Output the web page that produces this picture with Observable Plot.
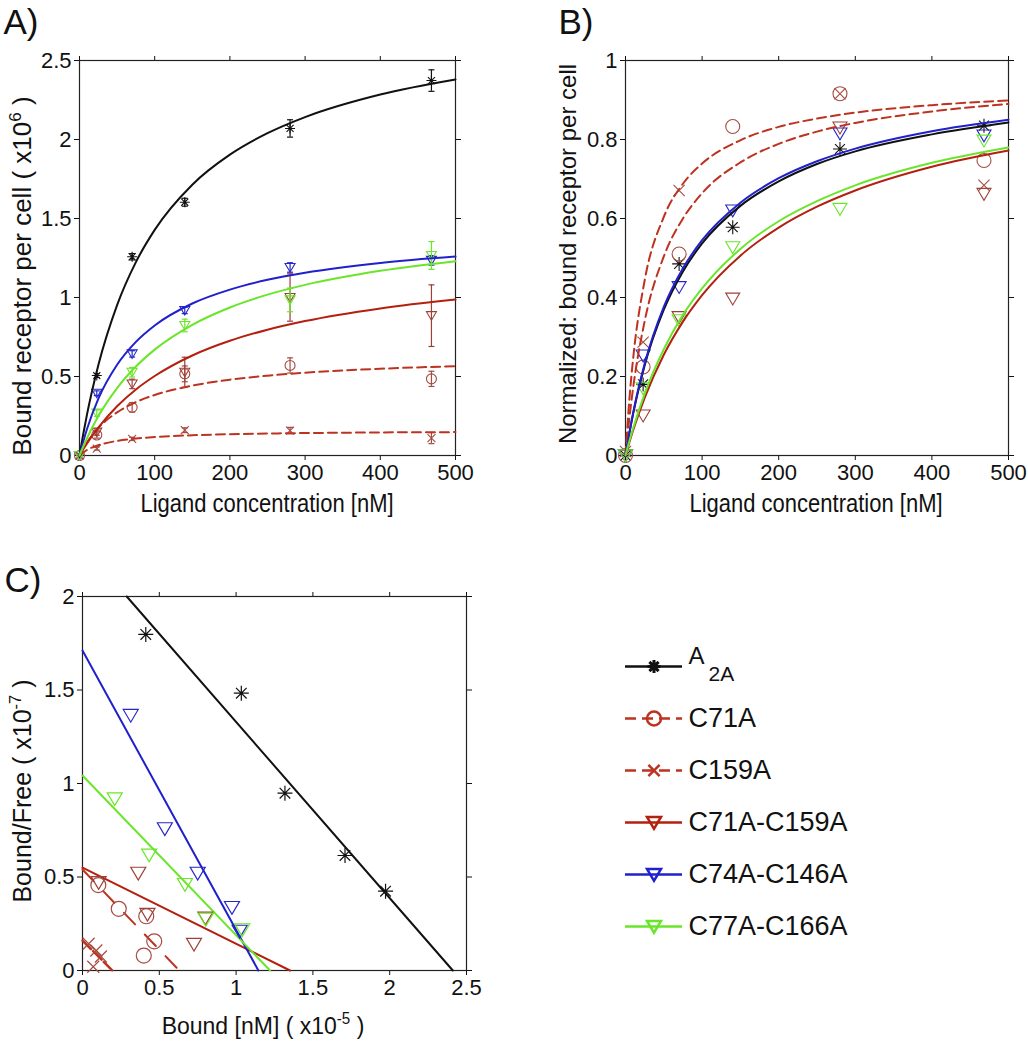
<!DOCTYPE html>
<html><head><meta charset="utf-8">
<script src="https://cdn.jsdelivr.net/npm/d3@7"></script>
<script src="https://cdn.jsdelivr.net/npm/@observablehq/plot@0.6"></script>
<style>
body{margin:0;background:#fff;}
#fig{position:relative;width:1028px;height:1050px;overflow:hidden;font-family:"Liberation Sans",Arial,Helvetica,sans-serif;color:#111;background:#fff;}
.lab{position:absolute;white-space:nowrap;line-height:1;transform-origin:50% 50%;color:#111;}
.lab sup{font-size:0.66em;vertical-align:0.6em;line-height:0;}
</style></head><body><div id="fig"></div>
<script>
// ---------------- data ----------------
const seriesNames = ["A2A", "C71A", "C159A", "C71A-C159A", "C74A-C146A", "C77A-C166A"];

// Panel A: bound receptor per cell (x10^6) vs ligand concentration [nM]
const concA = [0, 23, 70, 140, 280, 468];
const boundA = [
  [0, 0.506, 1.258, 1.603, 2.07, 2.373],
  [0, 0.13, 0.305, 0.517, 0.57, 0.485],
  [0, 0.044, 0.105, 0.16, 0.158, 0.11],
  [0, 0.148, 0.453, 0.527, 1.0, 0.885],
  [0, 0.394, 0.643, 0.918, 1.19, 1.235],
  [0, 0.268, 0.527, 0.823, 0.985, 1.266]
];
const errA = [
  [0, 0.012, 0.02, 0.025, 0.055, 0.068],
  [0, 0.02, 0.03, 0.05, 0.048, 0.048],
  [0, 0.01, 0.01, 0.015, 0.02, 0.035],
  [0, 0.02, 0.03, 0.095, 0.15, 0.195],
  [0, 0.015, 0.02, 0.02, 0.03, 0.03],
  [0, 0.02, 0.03, 0.04, 0.075, 0.088]
];
// fitted saturation curves
const curveX = [0, 5, 10, 25, 50, 75, 100, 150, 200, 250, 300, 400, 500];
const fitA = [
  [0, 0.136, 0.260, 0.571, 0.952, 1.224, 1.428, 1.714, 1.904, 2.040, 2.142, 2.285, 2.380],
  [0, 0.044, 0.083, 0.174, 0.273, 0.338, 0.383, 0.442, 0.480, 0.505, 0.524, 0.549, 0.565],
  [0, 0.019, 0.035, 0.065, 0.092, 0.107, 0.117, 0.128, 0.135, 0.139, 0.142, 0.146, 0.148],
  [0, 0.040, 0.077, 0.177, 0.312, 0.418, 0.503, 0.633, 0.726, 0.796, 0.851, 0.931, 0.987],
  [0, 0.089, 0.168, 0.358, 0.574, 0.719, 0.823, 0.962, 1.050, 1.112, 1.157, 1.219, 1.259],
  [0, 0.057, 0.110, 0.248, 0.427, 0.563, 0.670, 0.827, 0.937, 1.018, 1.080, 1.169, 1.230]
];

// Panel B: normalized bound receptor per cell
const normB = [
  [0, 0.18, 0.485, 0.578, 0.776, 0.835],
  [0, 0.224, 0.51, 0.833, 0.916, 0.747],
  [0.01, 0.287, 0.671, null, 0.916, 0.684],
  [0, 0.101, 0.35, 0.397, 0.83, 0.662],
  [0, 0.253, 0.426, 0.62, 0.815, 0.81],
  [0, 0.17, 0.342, 0.527, 0.624, 0.797]
];
const fitB = [
  [0, 0.056, 0.106, 0.228, 0.369, 0.466, 0.537, 0.632, 0.694, 0.738, 0.770, 0.813, 0.843],
  [0, 0.094, 0.172, 0.340, 0.504, 0.600, 0.664, 0.742, 0.789, 0.820, 0.842, 0.871, 0.890],
  [0, 0.141, 0.246, 0.443, 0.604, 0.688, 0.739, 0.798, 0.832, 0.853, 0.868, 0.887, 0.899],
  [0, 0.033, 0.064, 0.146, 0.255, 0.339, 0.406, 0.506, 0.577, 0.630, 0.671, 0.731, 0.772],
  [0, 0.057, 0.108, 0.232, 0.376, 0.474, 0.545, 0.640, 0.702, 0.745, 0.777, 0.821, 0.850],
  [0, 0.036, 0.069, 0.156, 0.269, 0.356, 0.423, 0.523, 0.593, 0.644, 0.684, 0.741, 0.780]
];

// Panel C: Scatchard plot, Bound (x10^-5) vs Bound/Free (x10^-7)
const boundC = [
  [0.412, 1.034, 1.318, 1.709, 1.973],
  [0.103, 0.236, 0.415, 0.467, 0.399],
  [0.04, 0.09, 0.12, 0.07],
  [0.105, 0.363, 0.423, 0.726, 0.80],
  [0.314, 0.536, 0.75, 0.973, 1.023],
  [0.21, 0.434, 0.667, 0.803, 1.04]
];
const ratioC = [
  [1.797, 1.483, 0.948, 0.615, 0.424],
  [0.457, 0.33, 0.29, 0.156, 0.08],
  [0.143, 0.107, 0.075, 0.02],
  [0.47, 0.52, 0.30, 0.14, 0.28],
  [1.364, 0.758, 0.52, 0.337, 0.21],
  [0.918, 0.617, 0.46, 0.274, 0.218]
];
const fitLineCX = [[0.288, 2.411], [0, 0.63], [0, 0.195], [0, 1.351], [0, 1.145], [0, 1.221]];
const fitLineCY = [[2, 0], [0.54, 0], [0.16, 0], [0.55, 0], [1.711, 0], [1.043, 0]];

// tick labels
const ticksConc = [0, 100, 200, 300, 400, 500];
const ticksBoundA = [0, 0.5, 1, 1.5, 2, 2.5];
const ticksNorm = [0, 0.2, 0.4, 0.6, 0.8, 1];
const ticksBoundC = [0, 0.5, 1, 1.5, 2, 2.5];
const ticksRatioC = [0, 0.5, 1, 1.5, 2];

// ---------------- styles ----------------
const lineColor = ["#111111", "#bd3320", "#bd3320", "#b3200f", "#2020cc", "#6ae62a"];
const markColor = ["#111111", "#a54c42", "#a54c42", "#9c4038", "#2626c8", "#6ae62a"];
const lineDash = [null, "9,5", "9,5", null, null, null];

const triDown = {draw(ctx, size) { const r = Math.sqrt(size / Math.PI); ctx.moveTo(-r, -0.8 * r); ctx.lineTo(r, -0.8 * r); ctx.lineTo(0, 0.9 * r); ctx.closePath(); }};
const star8 = {draw(ctx, size) { const r = Math.sqrt(size / Math.PI), d = r * Math.SQRT1_2;
  ctx.moveTo(-r, 0); ctx.lineTo(r, 0); ctx.moveTo(0, -r); ctx.lineTo(0, r);
  ctx.moveTo(-d, -d); ctx.lineTo(d, d); ctx.moveTo(-d, d); ctx.lineTo(d, -d); }};
const times = {draw(ctx, size) { const r = Math.sqrt(size / Math.PI) * 0.8; ctx.moveTo(-r, -r); ctx.lineTo(r, r); ctx.moveTo(-r, r); ctx.lineTo(r, -r); }};
const capSym = {draw(ctx, size) { const r = Math.sqrt(size / Math.PI); ctx.moveTo(-r, 0); ctx.lineTo(r, 0); }};
const circ = {draw(ctx, size) { const r = Math.sqrt(size / Math.PI); ctx.moveTo(r, 0); ctx.arc(0, 0, r, 0, 2 * Math.PI); }};
const symbols = [star8, circ, times, triDown, triDown, triDown];

const FONT = '"Liberation Sans", Arial, Helvetica, sans-serif';
const fmt = d3.format("~g");
const fig = document.getElementById("fig");

function place(el, left, top) {
  el.style.position = "absolute"; el.style.left = left + "px"; el.style.top = top + "px";
  fig.appendChild(el);
}
function label(html, cx, cy, size, rot = 0, sx = 1, sy = 1) {
  const d = document.createElement("div");
  d.className = "lab"; d.innerHTML = html;
  d.style.fontSize = size + "px"; d.style.left = cx + "px"; d.style.top = cy + "px";
  d.style.transform = `translate(-50%,-50%) rotate(${rot}deg) scale(${sx},${sy})`;
  fig.appendChild(d);
}
function frameAxes(tx, ty) {
  return [
    Plot.axisX(tx, {anchor: "bottom", tickSize: 5, tickPadding: 4, label: null, fontSize: 22, tickFormat: fmt}),
    Plot.axisX(tx, {anchor: "top", tickSize: 5, label: null, tickFormat: () => ""}),
    Plot.axisY(ty, {anchor: "left", tickSize: 5, tickPadding: 3, label: null, fontSize: 22, tickFormat: fmt}),
    Plot.axisY(ty, {anchor: "right", tickSize: 5, label: null, tickFormat: () => ""}),
    Plot.frame({stroke: "#222", strokeWidth: 1.2})
  ];
}
const plotStyle = {fontFamily: FONT, fontSize: "22px", color: "#111", background: "transparent", overflow: "visible"};

// ---------------- Panel A ----------------
{
  const marks = [];
  seriesNames.forEach((s, i) => {
    const pts = concA.map((x, j) => ({x, y: boundA[i][j], e: errA[i][j]}));
    const eb = pts.filter(d => d.e > 0);
    marks.push(Plot.ruleX(eb, {x: "x", y1: d => d.y - d.e, y2: d => d.y + d.e, stroke: markColor[i], strokeWidth: 1.2}));
    marks.push(Plot.dot(eb.flatMap(d => [{x: d.x, y: d.y - d.e}, {x: d.x, y: d.y + d.e}]), {x: "x", y: "y", symbol: capSym, r: 3, stroke: markColor[i], strokeWidth: 1.2}));
    marks.push(Plot.dot(pts, {x: "x", y: "y", symbol: symbols[i], r: 5, stroke: markColor[i], fill: "none", strokeWidth: 1.1}));
  });
  seriesNames.forEach((s, i) => {
    marks.push(Plot.line(curveX.map((x, j) => ({x, y: fitA[i][j]})), {x: "x", y: "y", stroke: lineColor[i], strokeWidth: 2, strokeDasharray: lineDash[i], curve: "monotone-x"}));
  });
  const svg = Plot.plot({
    width: 510, height: 520, marginLeft: 79, marginRight: 55, marginTop: 60, marginBottom: 65,
    x: {domain: [0, 500]}, y: {domain: [0, 2.5]}, style: plotStyle,
    marks: [...frameAxes(ticksConc, ticksBoundA), ...marks]
  });
  place(svg, 0, 0);
}

// ---------------- Panel B ----------------
{
  const marks = [];
  seriesNames.forEach((s, i) => {
    const pts = concA.map((x, j) => ({x, y: normB[i][j]})).filter(d => d.y != null);
    marks.push(Plot.dot(pts, {x: "x", y: "y", symbol: symbols[i], r: 7, stroke: markColor[i], fill: "none", strokeWidth: 1.1}));
  });
  seriesNames.forEach((s, i) => {
    marks.push(Plot.line(curveX.map((x, j) => ({x, y: fitB[i][j]})), {x: "x", y: "y", stroke: lineColor[i], strokeWidth: 2, strokeDasharray: lineDash[i], curve: "monotone-x"}));
  });
  const svg = Plot.plot({
    width: 518, height: 520, marginLeft: 115, marginRight: 20, marginTop: 60, marginBottom: 65,
    x: {domain: [0, 500]}, y: {domain: [0, 1]}, style: plotStyle,
    marks: [...frameAxes(ticksConc, ticksNorm), ...marks]
  });
  place(svg, 510, 0);
}

// ---------------- Panel C ----------------
{
  const marks = [];
  seriesNames.forEach((s, i) => {
    marks.push(Plot.line(fitLineCX[i].map((x, j) => ({x, y: fitLineCY[i][j]})), {x: "x", y: "y", stroke: lineColor[i], strokeWidth: i === 2 ? 2.5 : 2, strokeDasharray: i === 1 ? "16,14" : (i === 2 ? "12,3" : null)}));
  });
  seriesNames.forEach((s, i) => {
    const pts = boundC[i].map((x, j) => ({x, y: ratioC[i][j]}));
    marks.push(Plot.dot(pts, {x: "x", y: "y", symbol: symbols[i], r: 7.5, stroke: markColor[i], fill: "none", strokeWidth: 1.2}));
  });
  const svg = Plot.plot({
    width: 510, height: 530, marginLeft: 82, marginRight: 44, marginTop: 76, marginBottom: 80,
    x: {domain: [0, 2.5]}, y: {domain: [0, 2]}, style: plotStyle,
    marks: [...frameAxes(ticksBoundC, ticksRatioC), ...marks]
  });
  place(svg, 0, 520);
}

// ---------------- Legend ----------------
{
  const marks = [];
  seriesNames.forEach((s, i) => {
    marks.push(Plot.ruleY([s], {y: d => d, x1: () => 0, x2: () => 1, stroke: lineColor[i], strokeWidth: 2.5, strokeDasharray: lineDash[i] ? "11,6" : null}));
    marks.push(Plot.dot([s], {x: () => 0.5, y: d => d, symbol: symbols[i], r: i === 0 ? 6.5 : 7, stroke: lineColor[i], fill: "none", strokeWidth: i === 0 ? 3 : 2.5}));
  });
  marks.push(Plot.text(seriesNames.slice(1), {x: () => 1, y: d => d, dx: 6, text: d => d, textAnchor: "start", fontSize: 27, fill: "#111"}));
  marks.push(Plot.text(seriesNames.slice(0, 1), {x: () => 1, y: d => d, dx: 6, dy: -10, text: d => d.slice(0, 1), textAnchor: "start", fontSize: 24, fill: "#111"}));
  marks.push(Plot.text(seriesNames.slice(0, 1), {x: () => 1, y: d => d, dx: 26, dy: 8, text: d => d.slice(1), textAnchor: "start", fontSize: 21, fill: "#111"}));
  const svg = Plot.plot({
    width: 300, height: 380, margin: 0,
    x: {domain: [0, 1], range: [35, 92], axis: null},
    y: {type: "point", domain: seriesNames, range: [40, 352], axis: null},
    style: plotStyle, marks
  });
  place(svg, 590, 600);
}

// ---------------- text labels ----------------
label("A)", 21, 21, 35);
label("B)", 576, 21, 35);
label("C)", 23, 579, 35);
label("Ligand concentration [nM]", 267, 504, 22, 0, 1, 1.2);
label("Ligand concentration [nM]", 816, 504, 22, 0, 1, 1.2);
label("Bound receptor per cell ( x10<sup>6</sup> )", 22, 276, 26, -90, 1.0, 1);
label("Normalized: bound receptor per cell", 568, 254, 24, -90);
label("Bound/Free ( x10<sup>-7</sup> )", 22, 791, 25, -90);
label("Bound [nM] ( x10<sup>-5</sup> )", 263, 1026, 23, 0, 1, 1.05);
</script></body></html>
